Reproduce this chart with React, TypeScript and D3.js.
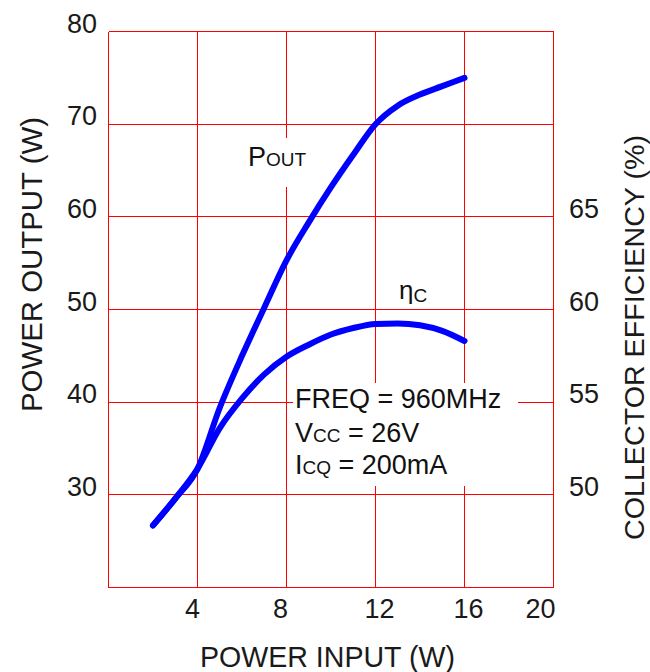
import React from "react";
import * as d3 from "d3";

const powerIn = [2, 3, 4, 5, 6, 7, 8, 9, 10, 11, 12, 13, 14, 15, 16];
const powerOut = [26.7, 29.6, 32.8, 39.4, 45.0, 50.2, 55.3, 59.4, 63.2, 66.7, 70.0, 72.0, 73.2, 74.1, 75.0];
const efficiency = [48.35, 49.8, 51.4, 53.6, 55.2, 56.5, 57.45, 58.1, 58.65, 59.0, 59.22, 59.25, 59.15, 58.85, 58.3];

const xGrid = [0, 4, 8, 12, 16, 20];
const xTickLabels = [4, 8, 12, 16, 20];
const xTickNudge = [-5, -6, 4, 4, -13];
const leftGrid = [20, 30, 40, 50, 60, 70, 80];
const leftTickLabels = [30, 40, 50, 60, 70, 80];
const rightTickLabels = [50, 55, 60, 65];

const FONT = "'Liberation Sans', Arial, sans-serif";

export default function App() {
  const x = d3.scaleLinear().domain([0, 20]).range([108.5, 553.5]);
  const yP = d3.scaleLinear().domain([20, 80]).range([587.5, 31.5]);
  const yE = d3.scaleLinear().domain([45, 75]).range([587.5, 31.5]);

  const poutLine = d3
    .line<number>()
    .x((d, i) => x(powerIn[i]))
    .y((d) => yP(d))
    .curve(d3.curveMonotoneX);
  const effLine = d3
    .line<number>()
    .x((d, i) => x(powerIn[i]))
    .y((d) => yE(d))
    .curve(d3.curveMonotoneX);

  return (
    <svg
      width={650}
      height={672}
      style={{ position: "absolute", left: 0, top: 0, background: "#fff" }}
      fontFamily={FONT}
    >
      {/* grid */}
      <g stroke="#ff0000" strokeWidth={1} shapeRendering="crispEdges">
        {xGrid.map((v) => (
          <line key={"vx" + v} x1={x(v)} x2={x(v)} y1={yP(20)} y2={yP(80)} />
        ))}
        {leftGrid.map((v) => (
          <line key={"hy" + v} x1={x(0)} x2={x(20)} y1={yP(v)} y2={yP(v)} />
        ))}
      </g>

      {/* label backgrounds */}
      <rect x={244} y={138} width={70} height={49} fill="#fff" />
      <rect x={293} y={383} width={225} height={103} fill="#fff" />

      {/* curves */}
      <path d={poutLine(powerOut) || ""} fill="none" stroke="#0000ff" strokeWidth={6} strokeLinecap="round" strokeLinejoin="round" />
      <path d={effLine(efficiency) || ""} fill="none" stroke="#0000ff" strokeWidth={6} strokeLinecap="round" strokeLinejoin="round" />

      {/* tick labels */}
      <g fontSize={27} fill="#1a1a1a">
        {leftTickLabels.map((v) => (
          <text key={"l" + v} x={97} y={yP(v) + 1} textAnchor="end">
            {v}
          </text>
        ))}
        {rightTickLabels.map((v) => (
          <text key={"r" + v} x={569} y={yE(v) + 1} textAnchor="start">
            {v}
          </text>
        ))}
        {xTickLabels.map((v, i) => (
          <text key={"x" + v} x={x(v) + xTickNudge[i]} y={618} textAnchor="middle">
            {v}
          </text>
        ))}
      </g>

      {/* axis titles */}
      <g fontSize={29} fill="#1a1a1a">
        <text x={200} y={667} textLength={255} lengthAdjust="spacingAndGlyphs">
          POWER INPUT (W)
        </text>
        <text
          transform="translate(42,265) rotate(-90)"
          x={-147}
          y={0}
          textLength={295}
          lengthAdjust="spacingAndGlyphs"
        >
          POWER OUTPUT (W)
        </text>
        <text
          transform="translate(644,338) rotate(-90)"
          x={-202}
          y={0}
          fontSize={28}
          textLength={405}
          lengthAdjust="spacingAndGlyphs"
        >
          COLLECTOR EFFICIENCY (%)
        </text>
      </g>

      {/* curve labels */}
      <text x={248} y={166} fontSize={27} fill="#111">
        P<tspan fontSize={19}>OUT</tspan>
      </text>
      <text x={399} y={299} fontSize={26} fill="#111">
        η<tspan fontSize={19} dy={3}>C</tspan>
      </text>

      {/* conditions */}
      <g fontSize={27} fill="#111">
        <text x={295} y={408}>FREQ = 960MHz</text>
        <text x={295} y={442}>
          V<tspan fontSize={19}>CC</tspan> = 26V
        </text>
        <text x={295} y={474}>
          I<tspan fontSize={19}>CQ</tspan> = 200mA
        </text>
      </g>
    </svg>
  );
}
